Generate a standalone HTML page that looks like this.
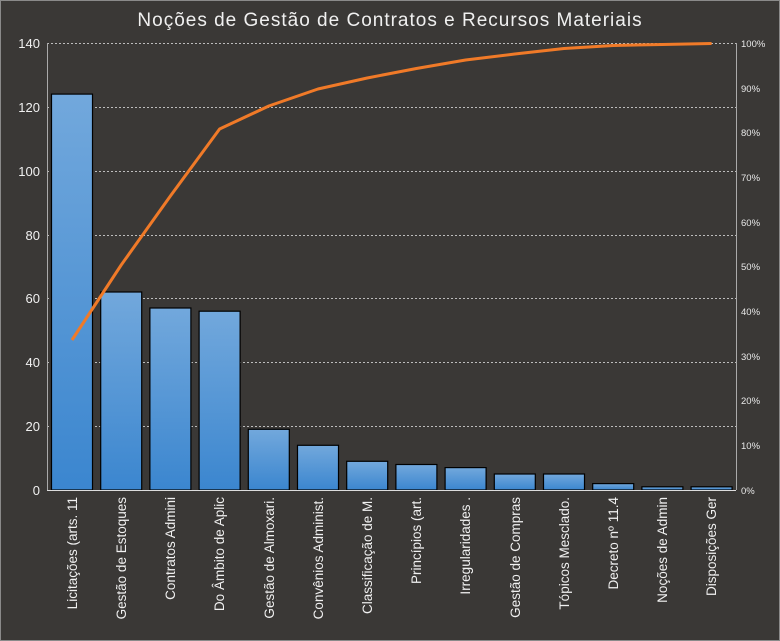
<!DOCTYPE html>
<html><head><meta charset="utf-8"><style>
html,body{margin:0;padding:0;background:#3a3836;}
svg{display:block;font-family:"Liberation Sans",sans-serif;}
</style></head><body>
<svg width="780" height="641" viewBox="0 0 780 641" xmlns="http://www.w3.org/2000/svg">
<defs><linearGradient id="g" x1="0" y1="0" x2="0" y2="1"><stop offset="0" stop-color="#72a8dc"/><stop offset="1" stop-color="#3b86cf"/></linearGradient></defs>
<rect x="0.5" y="0.5" width="779" height="640" fill="#3a3836" stroke="#8a8a8a"/>
<text x="390" y="26" text-anchor="middle" fill="#f0f0f0" font-size="19" letter-spacing="1">Noções de Gestão de Contratos e Recursos Materiais</text>
<g stroke="#bdbdbd" stroke-width="1" stroke-dasharray="2,2">
<line x1="47" y1="43.5" x2="736" y2="43.5"/><line x1="47" y1="107.5" x2="736" y2="107.5"/><line x1="47" y1="171.5" x2="736" y2="171.5"/><line x1="47" y1="235.5" x2="736" y2="235.5"/><line x1="47" y1="298.5" x2="736" y2="298.5"/><line x1="47" y1="362.5" x2="736" y2="362.5"/><line x1="47" y1="426.5" x2="736" y2="426.5"/>
</g>
<line x1="47.5" y1="43" x2="47.5" y2="490" stroke="#aaa"/>
<line x1="736.5" y1="43" x2="736.5" y2="490" stroke="#aaa"/>
<g fill="#f0f0f0" font-size="13" text-anchor="end">
<text x="40" y="48">140</text><text x="40" y="112">120</text><text x="40" y="176">100</text><text x="40" y="240">80</text><text x="40" y="303">60</text><text x="40" y="367">40</text><text x="40" y="431">20</text><text x="40" y="495">0</text>
</g>
<g fill="#e8e8e8" font-size="9.5">
<text x="741" y="47">100%</text><text x="741" y="92">90%</text><text x="741" y="136">80%</text><text x="741" y="181">70%</text><text x="741" y="226">60%</text><text x="741" y="270">50%</text><text x="741" y="315">40%</text><text x="741" y="360">30%</text><text x="741" y="404">20%</text><text x="741" y="449">10%</text><text x="741" y="494">0%</text>
</g>
<g fill="url(#g)" stroke="#000" stroke-width="1.2">
<rect x="51.5" y="94.1" width="41" height="395.9"/>
<rect x="100.7" y="292" width="41" height="198"/>
<rect x="149.9" y="308" width="41" height="182"/>
<rect x="199.1" y="311.2" width="41" height="178.8"/>
<rect x="248.3" y="429.3" width="41" height="60.7"/>
<rect x="297.5" y="445.3" width="41" height="44.7"/>
<rect x="346.7" y="461.3" width="41" height="28.7"/>
<rect x="395.9" y="464.5" width="41" height="25.5"/>
<rect x="445.1" y="467.6" width="41" height="22.4"/>
<rect x="494.3" y="474" width="41" height="16"/>
<rect x="543.5" y="474" width="41" height="16"/>
<rect x="592.7" y="483.6" width="41" height="6.4"/>
<rect x="641.9" y="486.8" width="41" height="3.2"/>
<rect x="691.1" y="486.8" width="41" height="3.2"/>
</g>
<line x1="47" y1="490.5" x2="736" y2="490.5" stroke="#ddd"/>
<polyline fill="none" stroke="#f07a28" stroke-width="3" stroke-linejoin="round" points="72,340 121.2,265 170.4,196 219.6,129 268.8,106 318,89 367.2,78 416.4,68.5 465.6,60 514.8,54 564,48.5 613.2,45.5 662.4,44.5 711.6,43.5"/>
<g fill="#f0f0f0" font-size="13.5" text-anchor="end">
<text transform="translate(77,497) rotate(-90)">Licitações (arts. 11</text>
<text transform="translate(126,497) rotate(-90)">Gestão de Estoques</text>
<text transform="translate(175,497) rotate(-90)">Contratos Admini</text>
<text transform="translate(224,497) rotate(-90)">Do Âmbito de Aplic</text>
<text transform="translate(274,497) rotate(-90)">Gestão de Almoxari.</text>
<text transform="translate(323,497) rotate(-90)">Convênios Administ.</text>
<text transform="translate(372,497) rotate(-90)">Classificação de M.</text>
<text transform="translate(421,497) rotate(-90)">Princípios (art.</text>
<text transform="translate(470,497) rotate(-90)">Irregularidades .</text>
<text transform="translate(520,497) rotate(-90)">Gestão de Compras</text>
<text transform="translate(569,497) rotate(-90)">Tópicos Mesclado.</text>
<text transform="translate(618,497) rotate(-90)">Decreto nº 11.4</text>
<text transform="translate(667,497) rotate(-90)">Noções de Admin</text>
<text transform="translate(716,497) rotate(-90)">Disposições Ger</text>
</g>
</svg>
</body></html>
